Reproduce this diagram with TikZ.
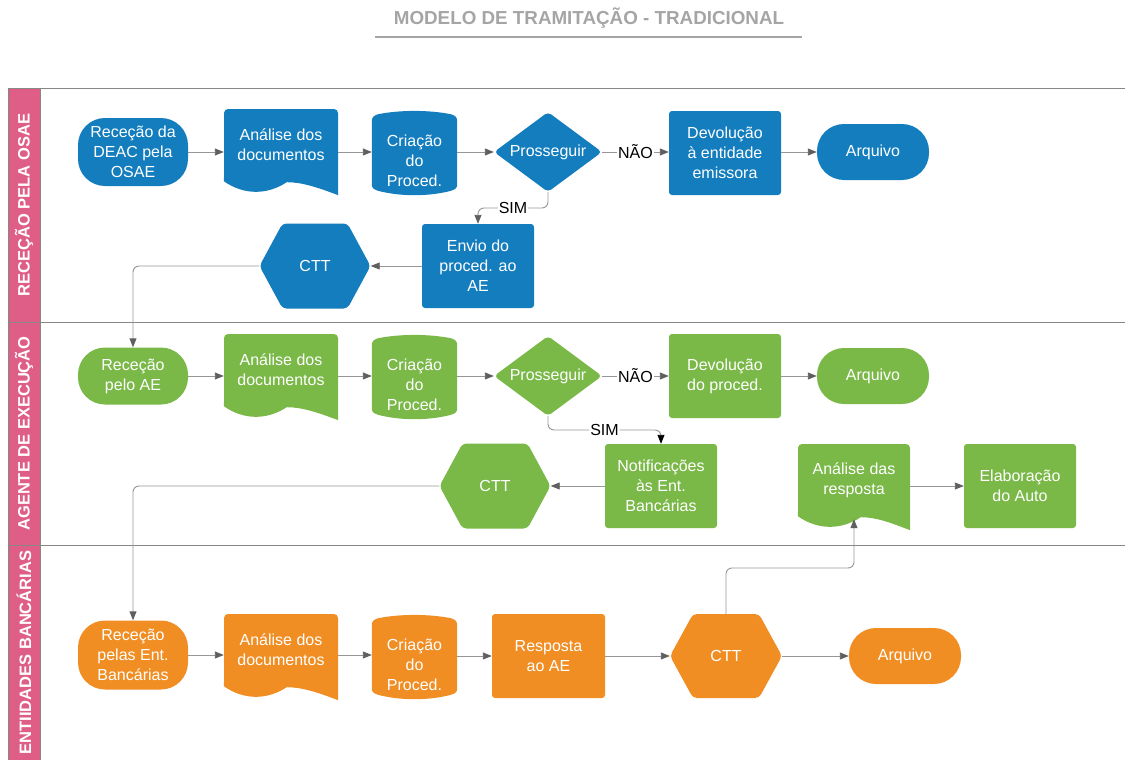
\documentclass[tikz,border=0pt]{standalone}
\usepackage{fontspec}
\setmainfont{Liberation Sans}
\usepackage{tikz}
\usetikzlibrary{calc,arrows.meta,shapes.geometric,backgrounds}

\definecolor{osaeblue}{RGB}{19,125,190}
\definecolor{aegreen}{RGB}{122,184,72}
\definecolor{bankorange}{RGB}{240,142,36}
\definecolor{lanepink}{RGB}{222,94,135}
\definecolor{lanegray}{RGB}{135,135,135}
\definecolor{linegray}{RGB}{150,150,150}
\definecolor{tipgray}{RGB}{95,95,95}
\definecolor{titlegray}{RGB}{165,165,165}

% wavy foot under a document node
\newcommand{\docwave}[2]{%
  \fill[#2] ($(#1.south west)+(0,-4)$) -- ($(#1.south east)+(0,-4)$) -- ($(#1.south east)+(0,14)$)
    .. controls ($(#1.south east)+(-21,6)$) and ($(#1.south west)+(78,1)$) .. ($(#1.south west)+(63,1)$)
    .. controls ($(#1.south west)+(43,14)$) and ($(#1.south west)+(20,14)$) .. (#1.south west) -- cycle;}
% store outline with curved lid and base, behind the text
\newcommand{\storeshape}[2]{%
  \begin{scope}[on background layer]
  \fill[#2] ($(#1.north west)+(0,-10)$)
    .. controls ($(#1.north west)+(0,-15)$) and ($(#1.north west)+(2,-16)$) .. ($(#1.north west)+(6,-17.5)$)
    .. controls ($(#1.north west)+(28,-22)$) and ($(#1.north east)+(-28,-22)$) .. ($(#1.north east)+(-6,-17.5)$)
    .. controls ($(#1.north east)+(-2,-16)$) and ($(#1.north east)+(0,-15)$) .. ($(#1.north east)+(0,-10)$)
    -- ($(#1.south east)+(0,-6)$)
    .. controls ($(#1.south east)+(0,-2)$) and ($(#1.south east)+(-2,-1)$) .. ($(#1.south east)+(-6,0.5)$)
    .. controls ($(#1.south east)+(-28,6.5)$) and ($(#1.south west)+(28,6.5)$) .. ($(#1.south west)+(6,0.5)$)
    .. controls ($(#1.south west)+(2,-1)$) and ($(#1.south west)+(0,-2)$) .. ($(#1.south west)+(0,-6)$) -- cycle;
  \end{scope}}

\tikzset{
  box/.style={text=white, align=center, inner sep=0pt, font=\fontsize{16}{20}\selectfont},
  proc/.style={box, fill=#1, rectangle, rounded corners=3pt, minimum width=112pt, minimum height=84pt},
  term/.style={box, fill=#1, rectangle, rounded corners=27pt, minimum width=110pt},
  docu/.style={box, fill=#1, rectangle, rounded corners=4pt, minimum width=114pt, minimum height=72pt},
  store/.style={box, rectangle, minimum width=85pt, minimum height=58pt},
  decision/.style={box, fill=#1, diamond, aspect=1.35, rounded corners=4pt, minimum width=108pt, minimum height=80pt},
  hexa/.style={box, rectangle, minimum width=111pt, minimum height=85pt,
    path picture={\fill[#1, rounded corners=4pt] (path picture bounding box.west)
      -- ($(path picture bounding box.north west)+(23,0)$) -- ($(path picture bounding box.north east)+(-23,0)$)
      -- (path picture bounding box.east)
      -- ($(path picture bounding box.south east)+(-23,0)$) -- ($(path picture bounding box.south west)+(23,0)$) -- cycle;}},
  arr/.style={draw=linegray, line width=0.9pt, -{Triangle[length=9pt,width=7pt,color=tipgray]}},
  lbl/.style={fill=white, text=black, inner sep=1pt, font=\fontsize{16}{20}\selectfont},
  lanelabel/.style={rotate=90, text=white, font=\fontsize{16.5}{18}\selectfont\bfseries}
}

\begin{document}
\begin{tikzpicture}[x=1pt, y=-1pt]
\useasboundingbox (0,0) rectangle (1125,760);

\node[text=titlegray, font=\fontsize{18.8}{20}\selectfont\bfseries] (title) at (589,18) {MODELO DE TRAMITAÇÃO - TRADICIONAL};
\draw[titlegray, line width=1.5pt] (375,37) -- (802,37);

\foreach \ya/\yb/\txt in {88/322/RECEÇÃO PELA OSAE, 322/545/AGENTE DE EXECUÇÃO, 545/760/ENTIIDADES BANCÁRIAS} {
  \filldraw[fill=lanepink, draw=lanegray, line width=0.8pt] (8,\ya) rectangle (40,\yb);
  \draw[lanegray, line width=0.8pt] (8,\ya) -- (1125,\ya);
  \node[lanelabel] (lane\ya) at (24,{(\ya+\yb)/2}) {\txt};
}

% OSAE
\node[term=osaeblue, minimum height=68pt] (rec1) at (133,152) {Receção da\\DEAC pela\\OSAE};
\node[docu=osaeblue] (ana1) at (281,145) {Análise dos\\documentos};
\docwave{ana1}{osaeblue}
\node[store] (cri1) at (414.5,161) {Criação\\do\\Proced.};
\storeshape{cri1}{osaeblue}
\node[decision=osaeblue] (pro1) at (548,152) {Prosseguir};
\node[proc=osaeblue] (dev1) at (725,153) {Devolução\\à entidade\\emissora};
\node[term=osaeblue, minimum width=112pt, minimum height=56pt] (arq1) at (873,152) {Arquivo};
\node[proc=osaeblue] (env1) at (478,266) {Envio do\\proced. ao\\AE};
\node[hexa=osaeblue] (ctt1) at (315,266) {CTT};

\draw[arr] (rec1.east) -- (ana1.west |- rec1.east);
\draw[arr] (ana1.east |- rec1.east) -- (cri1.west |- rec1.east);
\draw[arr] (cri1.east |- pro1.west) -- (pro1.west);
\draw[arr] (pro1.east) -- node[lbl] {NÃO} (dev1.west |- pro1.east);
\draw[arr] (dev1.east |- arq1.west) -- (arq1.west);
\draw[arr, rounded corners=6pt] (pro1.south) -- (pro1.south |- 0,208) -- node[lbl] {SIM} (env1.north |- 0,208) -- (env1.north);
\draw[arr] (env1.west) -- (ctt1.east);

% AE
\node[term=aegreen, minimum height=57pt] (rec2) at (133,376) {Receção\\pelo AE};
\node[docu=aegreen] (ana2) at (281,370) {Análise dos\\documentos};
\docwave{ana2}{aegreen}
\node[store] (cri2) at (414.5,385) {Criação\\do\\Proced.};
\storeshape{cri2}{aegreen}
\node[decision=aegreen] (pro2) at (548,376) {Prosseguir};
\node[proc=aegreen] (dev2) at (725,376) {Devolução\\do proced.};
\node[term=aegreen, minimum width=112pt, minimum height=56pt] (arq2) at (873,376) {Arquivo};
\node[proc=aegreen] (not2) at (661,486) {Notificações\\às Ent.\\Bancárias};
\node[hexa=aegreen] (ctt2) at (495,486) {CTT};
\node[docu=aegreen, minimum width=112pt] (res2) at (854,480) {Análise das\\resposta};
\docwave{res2}{aegreen}
\node[proc=aegreen] (ela2) at (1020,486) {Elaboração\\do Auto};

\draw[arr, rounded corners=6pt] (ctt1.west) -| (rec2.north);
\draw[arr] (rec2.east) -- (ana2.west |- rec2.east);
\draw[arr] (ana2.east |- rec2.east) -- (cri2.west |- rec2.east);
\draw[arr] (cri2.east |- pro2.west) -- (pro2.west);
\draw[arr] (pro2.east) -- node[lbl] {NÃO} (dev2.west);
\draw[arr] (dev2.east |- arq2.west) -- (arq2.west);
\draw[arr, -{Triangle[length=9pt,width=7pt,color=black]}, rounded corners=6pt] (pro2.south) -- (pro2.south |- 0,430) -- node[lbl] {SIM} (not2.north |- 0,430) -- (not2.north);
\draw[arr] (not2.west) -- (ctt2.east);
\draw[arr] (res2.east |- ela2.west) -- (ela2.west);

% Entidades bancarias
\node[term=bankorange, minimum height=69pt] (rec3) at (133,655) {Receção\\pelas Ent.\\Bancárias};
\node[docu=bankorange] (ana3) at (281,650) {Análise dos\\documentos};
\docwave{ana3}{bankorange}
\node[store] (cri3) at (414.5,665) {Criação\\do\\Proced.};
\storeshape{cri3}{bankorange}
\node[proc=bankorange, minimum width=113pt] (rsp3) at (548.5,656) {Resposta\\ao AE};
\node[hexa=bankorange, minimum width=112pt, minimum height=84pt] (ctt3) at (726,656) {CTT};
\node[term=bankorange, minimum width=112pt, minimum height=56pt] (arq3) at (905,656) {Arquivo};

\draw[arr, rounded corners=6pt] (ctt2.west) -| (rec3.north);
\draw[arr] (rec3.east) -- (ana3.west |- rec3.east);
\draw[arr] (ana3.east |- rec3.east) -- (cri3.west |- rec3.east);
\draw[arr] (cri3.east |- rsp3.west) -- (rsp3.west);
\draw[arr] (rsp3.east) -- (ctt3.west);
\draw[arr] (ctt3.east) -- (arq3.west);
\coordinate (resin) at ($(res2.south)+(0,3)$);
\draw[arr, rounded corners=6pt] (ctt3.north) -- (ctt3.north |- 0,568) -- (resin |- 0,568) -- (resin);
\end{tikzpicture}
\end{document}
